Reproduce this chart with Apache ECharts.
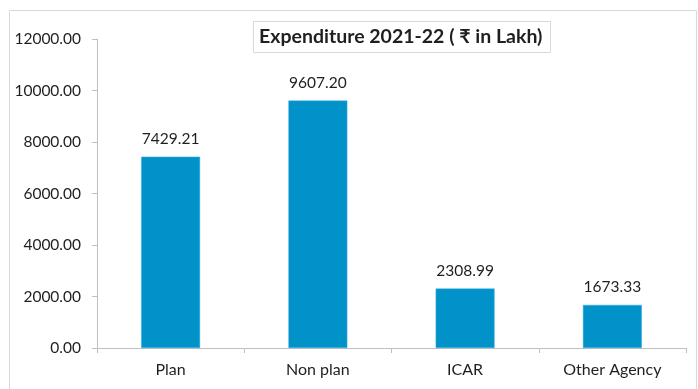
<!DOCTYPE html>
<html>
<head>
<meta charset="utf-8">
<script src="https://cdn.jsdelivr.net/npm/echarts@6/dist/echarts.min.js"></script>
<style>
  html, body { margin: 0; padding: 0; background: #fff; }
  #chart { width: 698px; height: 389px; }
</style>
</head>
<body>
<div id="chart"></div>
<script>
// Expenditure by head, 2021-22 (₹ in Lakh)
const categories = ['Plan', 'Non plan', 'ICAR', 'Other Agency'];
const expenditure = [7429.21, 9607.20, 2308.99, 1673.33];
const chartTitle = 'Expenditure 2021-22 ( \u20B9 in Lakh)';

const font = 'Lato, "Open Sans", "DejaVu Sans", sans-serif';
const axisGray = '#bfbfbf';
const textColor = '#1f1f1f';

const chart = echarts.init(document.getElementById('chart'));
chart.setOption({
  animation: false,
  title: {
    text: chartTitle,
    left: 253,
    top: 21,
    padding: [6, 8, 6, 6],
    borderColor: '#d9d9d9',
    borderWidth: 1,
    textStyle: { fontFamily: font, fontSize: 19.5, fontWeight: 'bold', color: textColor, lineHeight: 20 }
  },
  graphic: [{
    type: 'rect',
    silent: true,
    shape: { x: 9.5, y: 10.5, width: 687, height: 400 },
    style: { fill: 'none', stroke: '#d9d9d9', lineWidth: 1 }
  }],
  grid: { left: 97, right: 12, top: 39, bottom: 41 },
  xAxis: {
    type: 'category',
    data: categories,
    axisLine: { lineStyle: { color: axisGray, width: 1 } },
    axisTick: { show: true, length: 5, lineStyle: { color: axisGray } },
    axisLabel: { fontFamily: font, fontSize: 16, color: textColor, margin: 14 }
  },
  yAxis: {
    type: 'value',
    min: 0,
    max: 12000,
    interval: 2000,
    splitLine: { show: false },
    axisLine: { show: true, lineStyle: { color: axisGray, width: 1 } },
    axisTick: { show: true, length: 5, lineStyle: { color: axisGray } },
    axisLabel: {
      fontFamily: font, fontSize: 15.5, color: textColor, margin: 16,
      formatter: v => v.toFixed(2)
    }
  },
  series: [{
    type: 'bar',
    data: expenditure,
    barWidth: '40%',
    itemStyle: { color: '#0092c9', borderColor: '#3aaee0', borderWidth: 0.5 },
    label: {
      show: true,
      position: 'top',
      distance: 10,
      fontFamily: font,
      fontSize: 15.5,
      color: textColor,
      formatter: p => p.value.toFixed(2)
    }
  }]
});
</script>
</body>
</html>
